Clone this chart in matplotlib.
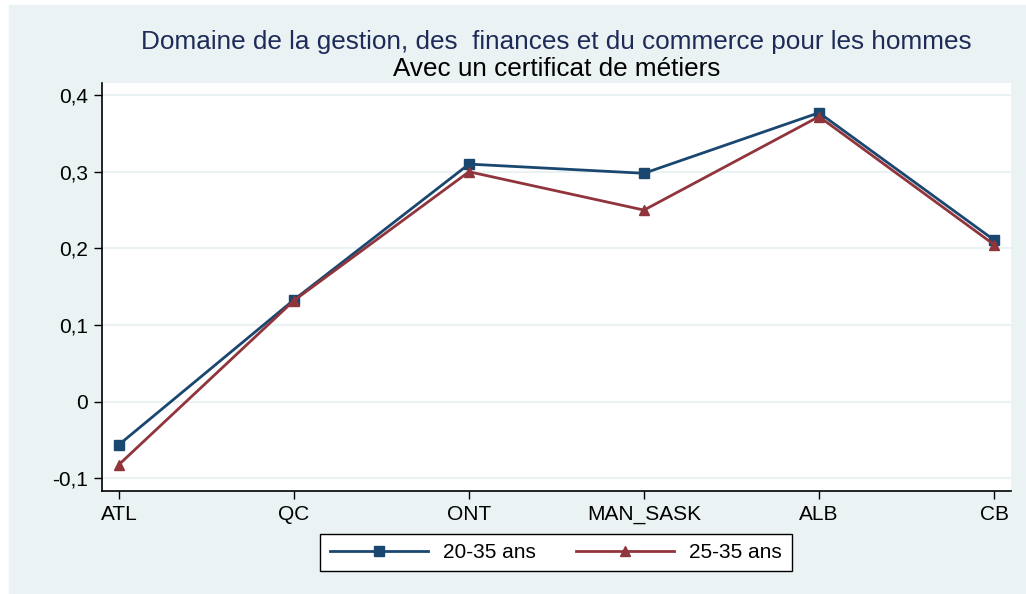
import matplotlib.pyplot as plt
import numpy as np

plt.rcParams['font.family'] = ['Liberation Sans', 'DejaVu Sans']

regions = ['ATL', 'QC', 'ONT', 'MAN_SASK', 'ALB', 'CB']
vals_20_35 = [-0.056, 0.133, 0.310, 0.298, 0.377, 0.211]
vals_25_35 = [-0.082, 0.132, 0.300, 0.250, 0.372, 0.205]
yticks = [-0.1, 0, 0.1, 0.2, 0.3, 0.4]
ytick_labels = ['-0,1', '0', '0,1', '0,2', '0,3', '0,4']

bg = '#eaf2f3'
navy = '#1a476f'
maroon = '#90353b'

fig = plt.figure(figsize=(10.26, 5.94), dpi=100)
fig.patch.set_facecolor('white')
# light graph region behind the plot area
fig.patches.append(plt.Rectangle((9 / 1026, 0), 1 - 9 / 1026, 1 - 5 / 594,
                                 transform=fig.transFigure, color=bg, zorder=-10))

ax = fig.add_axes([102 / 1026, 1 - 491 / 594, (1011 - 102) / 1026, (491 - 83) / 594])
ax.set_zorder(1)
ax.set_facecolor('white')
x = np.arange(len(regions))

ax.plot(x, vals_20_35, color=navy, lw=2, marker='s', ms=7, label='20-35 ans', zorder=3)
ax.plot(x, vals_25_35, color=maroon, lw=2, marker='^', ms=7.5, label='25-35 ans', zorder=3)

ax.set_xlim(-0.097, 5.097)
ax.set_ylim(-0.1165, 0.4158)
ax.set_xticks(x)
ax.set_xticklabels(regions)
ax.set_yticks(yticks)
ax.set_yticklabels(ytick_labels)
ax.yaxis.grid(True, color=bg, lw=1.5)
ax.set_axisbelow(True)

for s in ['top', 'right']:
    ax.spines[s].set_visible(False)
for s in ['left', 'bottom']:
    ax.spines[s].set_color('black')
    ax.spines[s].set_linewidth(1.2)
ax.tick_params(axis='both', direction='out', length=6, width=1, labelsize=15,
               colors='black', pad=4)

fig.text(0.5425, 1 - 42 / 594, 'Domaine de la gestion, des  finances et du commerce pour les hommes',
         ha='center', va='center', fontsize=18.8, color='#1e2b58')
fig.text(0.5425, 1 - 69 / 594, 'Avec un certificat de métiers',
         ha='center', va='center', fontsize=18.8, color='black')

leg = ax.legend(loc='center', bbox_to_anchor=(556 / 1026, 1 - 552.5 / 594),
                bbox_transform=fig.transFigure, ncol=2, fontsize=15,
                frameon=True, fancybox=False, edgecolor='black', facecolor='white',
                framealpha=1, handlelength=4.7, columnspacing=1.9,
                handletextpad=0.75, borderpad=0.45, borderaxespad=0)
leg.get_frame().set_linewidth(1)

fig.savefig('out.png', dpi=100, facecolor=fig.get_facecolor())
